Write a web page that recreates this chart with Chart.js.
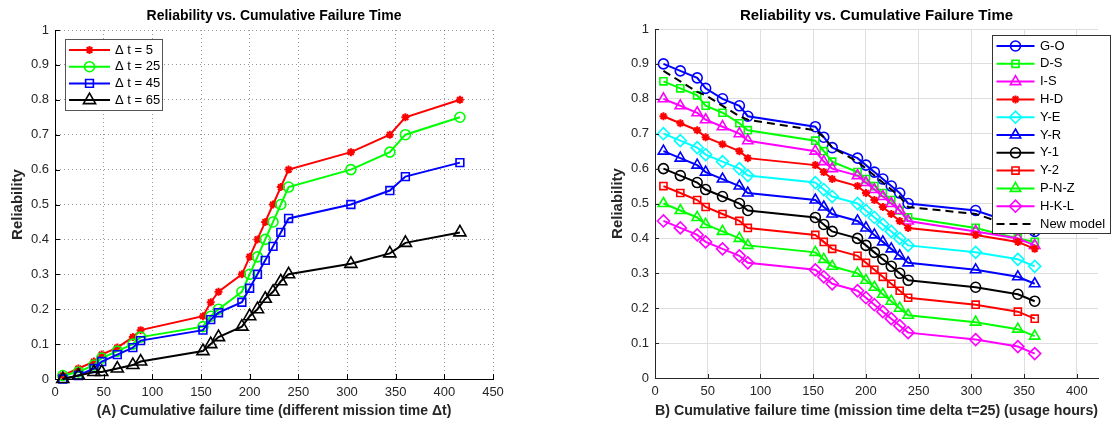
<!DOCTYPE html>
<html>
<head>
<meta charset="utf-8">
<title>Reliability vs. Cumulative Failure Time</title>
<script src="https://cdn.jsdelivr.net/npm/chart.js@4.4.1/dist/chart.umd.min.js"></script>
<style>
  html, body { margin: 0; padding: 0; background: #fff; }
  #wrap { position: relative; width: 1117px; height: 427px; overflow: hidden; }
  .panel { position: absolute; top: 0; height: 427px; }
  #panelA { left: 0; width: 560px; }
  #panelB { left: 560px; width: 557px; }
</style>
</head>
<body>
<div id="wrap">
  <div class="panel" id="panelA"><canvas id="chartA"></canvas></div>
  <div class="panel" id="panelB"><canvas id="chartB"></canvas></div>
</div>
<script>
// ---- data ----
const timesA = [8, 24, 40, 48, 64, 80, 88, 152, 160, 168, 192, 200, 208, 216, 224, 232, 240, 304, 344, 360, 416];
const dt5  = [0.01, 0.03, 0.05, 0.07, 0.09, 0.12, 0.14, 0.18, 0.22, 0.25, 0.30, 0.35, 0.40, 0.45, 0.50, 0.55, 0.60, 0.65, 0.70, 0.75, 0.80];
const dt25 = [0.01, 0.02, 0.04, 0.06, 0.08, 0.10, 0.12, 0.15, 0.18, 0.20, 0.25, 0.30, 0.35, 0.40, 0.45, 0.50, 0.55, 0.60, 0.65, 0.70, 0.75];
const dt45 = [0.00, 0.01, 0.03, 0.05, 0.07, 0.09, 0.11, 0.14, 0.17, 0.19, 0.22, 0.26, 0.30, 0.34, 0.38, 0.42, 0.46, 0.50, 0.54, 0.58, 0.62];
const dt65 = [0.00, 0.01, 0.02, 0.02, 0.03, 0.04, 0.05, 0.08, 0.10, 0.12, 0.15, 0.18, 0.20, 0.23, 0.25, 0.28, 0.30, 0.33, 0.36, 0.39, 0.42];

const timesB = [8, 24, 40, 48, 64, 80, 88, 152, 160, 168, 192, 200, 208, 216, 224, 232, 240, 304, 344, 360];
const goVals  = [0.90, 0.88, 0.86, 0.83, 0.80, 0.78, 0.75, 0.72, 0.69, 0.66, 0.63, 0.61, 0.59, 0.57, 0.55, 0.53, 0.50, 0.48, 0.44, 0.42];
const dsVals  = [0.85, 0.83, 0.81, 0.78, 0.76, 0.73, 0.71, 0.68, 0.65, 0.62, 0.59, 0.57, 0.55, 0.53, 0.51, 0.48, 0.46, 0.43, 0.40, 0.39];
const isVals  = [0.80, 0.78, 0.76, 0.74, 0.72, 0.70, 0.68, 0.65, 0.62, 0.60, 0.58, 0.56, 0.54, 0.52, 0.50, 0.48, 0.45, 0.42, 0.40, 0.38];
const hdVals  = [0.75, 0.73, 0.71, 0.69, 0.67, 0.65, 0.63, 0.61, 0.59, 0.57, 0.55, 0.53, 0.51, 0.49, 0.47, 0.45, 0.43, 0.41, 0.39, 0.37];
const yeVals  = [0.70, 0.68, 0.66, 0.64, 0.62, 0.60, 0.58, 0.56, 0.54, 0.52, 0.50, 0.48, 0.46, 0.44, 0.42, 0.40, 0.38, 0.36, 0.34, 0.32];
const yrVals  = [0.65, 0.63, 0.61, 0.59, 0.57, 0.55, 0.53, 0.51, 0.49, 0.47, 0.45, 0.43, 0.41, 0.39, 0.37, 0.35, 0.33, 0.31, 0.29, 0.27];
const y1Vals  = [0.60, 0.58, 0.56, 0.54, 0.52, 0.50, 0.48, 0.46, 0.44, 0.42, 0.40, 0.38, 0.36, 0.34, 0.32, 0.30, 0.28, 0.26, 0.24, 0.22];
const y2Vals  = [0.55, 0.53, 0.51, 0.49, 0.47, 0.45, 0.43, 0.41, 0.39, 0.37, 0.35, 0.33, 0.31, 0.29, 0.27, 0.25, 0.23, 0.21, 0.19, 0.17];
const pnzVals = [0.50, 0.48, 0.46, 0.44, 0.42, 0.40, 0.38, 0.36, 0.34, 0.32, 0.30, 0.28, 0.26, 0.24, 0.22, 0.20, 0.18, 0.16, 0.14, 0.12];
const hklVals = [0.45, 0.43, 0.41, 0.39, 0.37, 0.35, 0.33, 0.31, 0.29, 0.27, 0.25, 0.23, 0.21, 0.19, 0.17, 0.15, 0.13, 0.11, 0.09, 0.07];
const newModelVals = [0.88, 0.85, 0.82, 0.81, 0.78, 0.75, 0.74, 0.71, 0.69, 0.66, 0.62, 0.60, 0.58, 0.56, 0.54, 0.52, 0.49, 0.47, 0.43, 0.41];

// tick labels
const xTicksA = [0, 50, 100, 150, 200, 250, 300, 350, 400, 450];
const xTicksB = [0, 50, 100, 150, 200, 250, 300, 350, 400];
const yTicks = [0, 0.1, 0.2, 0.3, 0.4, 0.5, 0.6, 0.7, 0.8, 0.9, 1];

const FONT = "'Liberation Sans', Arial, Helvetica, sans-serif";

function series(label, xs, ys, color, style, radius, dash) {
    return {
        label: label,
        data: xs.map((x, i) => ({ x: x, y: ys[i] })),
        borderColor: color,
        backgroundColor: color,
        pointBorderColor: color,
        pointBackgroundColor: 'rgba(0,0,0,0)',
        pointStyle: style,
        pointRadius: radius,
        pointBorderWidth: style === 'star' ? 2 : 1.6,
        borderWidth: 2,
        borderDash: dash || [],
        fill: false,
        tension: 0,
        clip: false
    };
}

// MATLAB draws later lines on top
function stackLastOnTop(sets) {
    sets.forEach((ds, i) => { ds.order = -i; });
    return sets;
}

function useTicks(values) {
    return function (scale) {
        scale.ticks = values.map(v => ({ value: v }));
    };
}

function fmtTick(v) {
    return String(+Number(v).toFixed(2));
}

// title centred over the plot box
const axesTitle = {
    id: 'axesTitle',
    afterDraw(chart, args, opts) {
        const ctx = chart.ctx, a = chart.chartArea;
        ctx.save();
        ctx.font = 'bold ' + opts.size + 'px ' + FONT;
        ctx.fillStyle = '#000';
        ctx.textAlign = 'center';
        ctx.textBaseline = 'middle';
        ctx.fillText(opts.text, (a.left + a.right) / 2, opts.y);
        ctx.restore();
    }
};

// small inward tick marks on the bottom and left axes
const innerTicks = {
    id: 'innerTicks',
    afterDraw(chart, args, opts) {
        const ctx = chart.ctx, a = chart.chartArea;
        const xs = chart.scales.x, ys = chart.scales.y;
        ctx.save();
        ctx.strokeStyle = opts.color;
        ctx.lineWidth = 1;
        ctx.beginPath();
        xs.ticks.forEach(t => {
            const px = Math.round(xs.getPixelForValue(t.value)) + 0.5;
            ctx.moveTo(px, a.bottom);
            ctx.lineTo(px, a.bottom - opts.len);
        });
        ys.ticks.forEach(t => {
            const py = Math.round(ys.getPixelForValue(t.value)) + 0.5;
            ctx.moveTo(a.left, py);
            ctx.lineTo(a.left + opts.len, py);
        });
        ctx.stroke();
        ctx.restore();
    }
};

// boxed legend with line + marker samples
const boxLegend = {
    id: 'boxLegend',
    afterDatasetsDraw(chart, args, opts) {
        const ctx = chart.ctx;
        ctx.save();
        ctx.fillStyle = '#fff';
        ctx.fillRect(opts.x, opts.y, opts.w, opts.h);
        ctx.strokeStyle = opts.borderColor;
        ctx.lineWidth = 1;
        ctx.strokeRect(opts.x + 0.5, opts.y + 0.5, opts.w, opts.h);
        chart.data.datasets.forEach((ds, i) => {
            const cy = opts.y + opts.firstRow + i * opts.rowH;
            const x1 = opts.x + opts.lineX, x2 = x1 + opts.lineW;
            ctx.strokeStyle = ds.borderColor;
            ctx.lineWidth = ds.borderWidth;
            ctx.setLineDash(ds.borderDash || []);
            ctx.beginPath();
            ctx.moveTo(x1, cy);
            ctx.lineTo(x2, cy);
            ctx.stroke();
            ctx.setLineDash([]);
            if (ds.pointRadius > 0 && Chart.helpers && Chart.helpers.drawPoint) {
                ctx.strokeStyle = ds.pointBorderColor;
                ctx.fillStyle = 'rgba(0,0,0,0)';
                ctx.lineWidth = ds.pointBorderWidth;
                Chart.helpers.drawPoint(ctx, {
                    pointStyle: ds.pointStyle, rotation: 0,
                    radius: ds.pointRadius, borderWidth: ds.pointBorderWidth
                }, (x1 + x2) / 2, cy);
            }
            ctx.fillStyle = '#000';
            ctx.font = '13px ' + FONT;
            ctx.textAlign = 'left';
            ctx.textBaseline = 'middle';
            ctx.fillText(ds.label, opts.x + opts.textX, cy);
        });
        ctx.restore();
    }
};

function axisFont(size, bold) {
    return { family: FONT, size: size, weight: bold ? 'bold' : 'normal' };
}

// ---- (A) left panel ----
const setsA = stackLastOnTop([
    series('\u0394 t = 5', timesA, dt5, '#ff0000', 'star', 4),
    series('\u0394 t = 25', timesA, dt25, '#00ff00', 'circle', 5),
    series('\u0394 t = 45', timesA, dt45, '#0000ff', 'rect', 5.5),
    series('\u0394 t = 65', timesA, dt65, '#000000', 'triangle', 7)
]);

new Chart(document.getElementById('chartA'), {
    type: 'line',
    data: { datasets: setsA },
    plugins: [axesTitle, innerTicks, boxLegend],
    options: {
        responsive: true,
        maintainAspectRatio: false,
        animation: false,
        events: [],
        devicePixelRatio: 1,
        layout: { padding: { top: 30, right: 67, bottom: 0, left: 0 } },
        plugins: {
            legend: { display: false },
            tooltip: { enabled: false },
            axesTitle: { text: 'Reliability vs. Cumulative Failure Time', y: 16, size: 14 },
            innerTicks: { color: '#000', len: 5 },
            boxLegend: { x: 65, y: 39, w: 97, h: 71, firstRow: 11, rowH: 16.7, lineX: 4, lineW: 41, textX: 50, borderColor: '#555' }
        },
        scales: {
            x: {
                type: 'linear', min: 0, max: 450,
                afterBuildTicks: useTicks(xTicksA),
                ticks: { padding: 6, color: '#262626', font: axisFont(13), maxRotation: 0, autoSkip: false, callback: fmtTick },
                grid: { color: 'rgba(0,0,0,0.4)', drawTicks: false, lineWidth: 1 },
                border: { display: true, color: '#000', width: 1, dash: [1, 3] },
                title: { display: true, text: '(A) Cumulative failure time (different mission time \u0394t)', color: '#262626', font: axisFont(14, true), padding: { top: 0, bottom: 7 } },
                afterFit(scale) { scale.height = 48; }
            },
            y: {
                min: 0, max: 1,
                afterBuildTicks: useTicks(yTicks),
                ticks: { padding: 6, color: '#262626', font: axisFont(13), callback: fmtTick },
                grid: { color: 'rgba(0,0,0,0.4)', drawTicks: false, lineWidth: 1 },
                border: { display: true, color: '#000', width: 1, dash: [1, 3] },
                title: { display: true, text: 'Reliability', color: '#262626', font: axisFont(15, true), padding: { top: 9, bottom: 0 } },
                afterFit(scale) { scale.width = 55; }
            }
        }
    }
});

// ---- (B) right panel ----
const setsB = stackLastOnTop([
    series('G-O', timesB, goVals, '#0000ff', 'circle', 5),
    series('D-S', timesB, dsVals, '#00ff00', 'rect', 5),
    series('I-S', timesB, isVals, '#ff00ff', 'triangle', 6),
    series('H-D', timesB, hdVals, '#ff0000', 'star', 4),
    series('Y-E', timesB, yeVals, '#00ffff', 'rectRot', 6),
    series('Y-R', timesB, yrVals, '#0000ff', 'triangle', 6),
    series('Y-1', timesB, y1Vals, '#000000', 'circle', 5),
    series('Y-2', timesB, y2Vals, '#ff0000', 'rect', 5),
    series('P-N-Z', timesB, pnzVals, '#00ff00', 'triangle', 6),
    series('H-K-L', timesB, hklVals, '#ff00ff', 'rectRot', 6),
    series('New model', timesB, newModelVals, '#000000', 'circle', 0, [8, 5])
]);

new Chart(document.getElementById('chartB'), {
    type: 'line',
    data: { datasets: setsB },
    plugins: [axesTitle, innerTicks, boxLegend],
    options: {
        responsive: true,
        maintainAspectRatio: false,
        animation: false,
        events: [],
        devicePixelRatio: 1,
        layout: { padding: { top: 29, right: 19, bottom: 0, left: 0 } },
        plugins: {
            legend: { display: false },
            tooltip: { enabled: false },
            axesTitle: { text: 'Reliability vs. Cumulative Failure Time', y: 16, size: 15 },
            innerTicks: { color: '#262626', len: 4 },
            boxLegend: { x: 432, y: 35, w: 118, h: 198, firstRow: 11, rowH: 17.8, lineX: 4.5, lineW: 38, textX: 48, borderColor: '#333' }
        },
        scales: {
            x: {
                type: 'linear', min: 0, max: 420,
                afterBuildTicks: useTicks(xTicksB),
                ticks: { padding: 6, color: '#262626', font: axisFont(13), maxRotation: 0, autoSkip: false, callback: fmtTick },
                grid: { color: '#dedede', drawTicks: false, lineWidth: 1 },
                border: { display: true, color: '#262626', width: 1 },
                title: { display: true, text: 'B) Cumulative failure time (mission time delta t=25) (usage hours)', color: '#262626', font: axisFont(15.5, true), padding: { top: 0, bottom: 7 } },
                afterFit(scale) { scale.height = 49; }
            },
            y: {
                min: 0, max: 1,
                afterBuildTicks: useTicks(yTicks),
                ticks: { padding: 6, color: '#262626', font: axisFont(13), callback: fmtTick },
                grid: { color: '#dedede', drawTicks: false, lineWidth: 1 },
                border: { display: true, color: '#262626', width: 1 },
                title: { display: true, text: 'Reliability', color: '#262626', font: axisFont(15, true), padding: { top: 49, bottom: 0 } },
                afterFit(scale) { scale.width = 95; }
            }
        }
    }
});
</script>
</body>
</html>
